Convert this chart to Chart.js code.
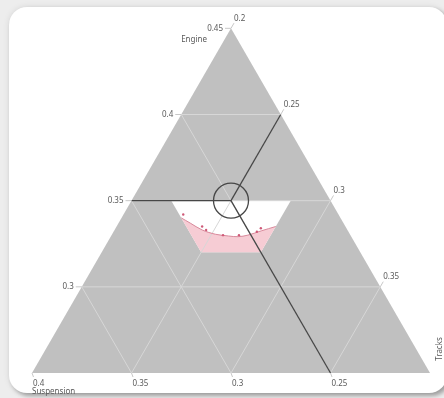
<!DOCTYPE html>
<html>
<head>
<meta charset="utf-8">
<script src="https://cdn.jsdelivr.net/npm/chart.js@4"></script>
<style>
  html, body { margin: 0; padding: 0; }
  body { width: 444px; height: 398px; overflow: hidden; background: #ededed; position: relative; }
  #card {
    position: absolute; left: 9px; top: 7px; width: 438px; height: 386px;
    background: #ffffff; border-radius: 18px;
    box-shadow: 0 0 6px rgba(0,0,0,0.10), 3px 3px 4px rgba(0,0,0,0.30);
  }
  #plot { position: absolute; left: 0; top: 0; }
</style>
</head>
<body>
<div id="card"></div>
<canvas id="plot" width="444" height="398"></canvas>
<script>
// Ternary composition: Engine + Suspension + Tracks = 0.85
const TOTAL = 0.85;
const engineRange = [0.25, 0.45];
const suspensionRange = [0.20, 0.40];
const tracksRange = [0.20, 0.40];

// Axis ticks (labelled)
const engineTicks = [0.45, 0.40, 0.35, 0.30];
const suspensionTicks = [0.40, 0.35, 0.30, 0.25];
const tracksTicks = [0.20, 0.25, 0.30, 0.35];

// Interior grid lines
const engineGrid = [0.30, 0.35, 0.40];
const suspensionGrid = [0.25, 0.30, 0.35];
const tracksGrid = [0.25, 0.30, 0.35];

// Feasible region (corner compositions)
const regionEngine     = [0.350, 0.350, 0.320, 0.320];
const regionSuspension = [0.280, 0.220, 0.250, 0.280];
const regionTracks     = [0.220, 0.280, 0.280, 0.250];

// Constraint boundary curve
const curveEngine     = [0.340, 0.337, 0.333, 0.3305, 0.3295, 0.3291, 0.330, 0.3325, 0.335];
const curveSuspension = [0.280, 0.277, 0.273, 0.2675, 0.2615, 0.2569, 0.2515, 0.2435, 0.235];
const curveTracks     = [0.230, 0.236, 0.244, 0.252,  0.259,  0.264,  0.2685, 0.274,  0.280];

// Sampled design points
const dotEngine     = [0.342, 0.335, 0.333, 0.330, 0.330, 0.332, 0.334];
const dotSuspension = [0.278, 0.272, 0.271, 0.264, 0.256, 0.246, 0.243];
const dotTracks     = [0.230, 0.243, 0.246, 0.256, 0.264, 0.272, 0.273];

// Selected composition
const selEngine = 0.35, selSuspension = 0.25, selTracks = 0.25;

// Convert a composition to planar coordinates (unit side, bottom-left corner at origin)
function tern(e, s, t) {
  let a = (e - engineRange[0]) / 0.2;
  let b = (s - suspensionRange[0]) / 0.2;
  let c = (t - tracksRange[0]) / 0.2;
  const sum = a + b + c;
  a /= sum; b /= sum; c /= sum;
  return { x: c + a / 2, y: a * Math.sqrt(3) / 2 };
}
function ternList(E, S, T) {
  return E.map((e, i) => tern(e, S[i], T[i]));
}

const GRAY = '#c0c0c0';
const GRID = '#d7d7d7';
const DARK = '#474747';

const datasets = [];
function line(data, color, width, order, extra) {
  datasets.push(Object.assign({
    type: 'scatter', data, showLine: true, borderColor: color, borderWidth: width,
    pointRadius: 0, fill: false, order, tension: 0
  }, extra || {}));
}

// Triangle body
const vTop = tern(engineRange[1], TOTAL - engineRange[1] - tracksRange[0], tracksRange[0]);
const vLeft = tern(engineRange[0], suspensionRange[1], TOTAL - engineRange[0] - suspensionRange[1]);
const vRight = tern(engineRange[0], TOTAL - engineRange[0] - tracksRange[1], tracksRange[1]);
line([vLeft, vTop, vRight, vLeft], GRAY, 0, 100, { fill: 'shape', backgroundColor: GRAY });

// Feasible region
const reg = ternList(regionEngine, regionSuspension, regionTracks);
line(reg.concat([reg[0]]), '#ffffff', 0, 90, { fill: 'shape', backgroundColor: '#ffffff' });

// Area beyond the constraint curve
const curve = ternList(curveEngine, curveSuspension, curveTracks);
const pinkPoly = curve.concat([reg[2], reg[3], curve[0]]);
line(pinkPoly, 'rgba(0,0,0,0)', 0, 85, { fill: 'shape', backgroundColor: '#f6ccd4' });

// Grid lines
engineGrid.forEach(e => {
  line([tern(e, TOTAL - e - tracksRange[0], tracksRange[0]), tern(e, suspensionRange[0], TOTAL - e - suspensionRange[0])], GRID, 1, 70);
});
suspensionGrid.forEach(s => {
  line([tern(TOTAL - s - tracksRange[0], s, tracksRange[0]), tern(engineRange[0], s, TOTAL - s - engineRange[0])], GRID, 1, 70);
});
tracksGrid.forEach(t => {
  line([tern(TOTAL - t - suspensionRange[0], suspensionRange[0], t), tern(engineRange[0], TOTAL - t - engineRange[0], t)], GRID, 1, 70);
});

// Constraint curve
line(curve, '#d98a9c', 1, 60, { tension: 0.35 });

// Crosshair from the selected composition to each axis
const sel = tern(selEngine, selSuspension, selTracks);
line([tern(selEngine, TOTAL - selEngine - tracksRange[0], tracksRange[0]), sel], DARK, 1.3, 50);
line([sel, tern(TOTAL - selTracks - suspensionRange[0], suspensionRange[0], selTracks)], DARK, 1.3, 50);
line([sel, tern(engineRange[0], selSuspension, TOTAL - selSuspension - engineRange[0])], DARK, 1.3, 50);

// Selection ring
datasets.push({
  type: 'scatter', data: [sel], pointRadius: 17.5, pointBorderWidth: 1.3,
  pointBorderColor: DARK, pointBackgroundColor: 'rgba(0,0,0,0)', order: 45
});

// Design points
datasets.push({
  type: 'scatter', data: ternList(dotEngine, dotSuspension, dotTracks), pointRadius: 1.2,
  pointBorderWidth: 0, pointBackgroundColor: '#cf5a78', order: 40
});

const SIDE = 398, LEFT = 32, BASE = 373, W = 444, H = 398;

const axisLabels = {
  id: 'ternaryAxes',
  afterDatasetsDraw(chart) {
    const { ctx } = chart;
    const xs = chart.scales.x, ys = chart.scales.y;
    const px = p => ({ x: xs.getPixelForValue(p.x), y: ys.getPixelForValue(p.y) });
    ctx.save();
    ctx.font = '8px "Noto Sans", sans-serif';
    ctx.fillStyle = '#5a5a5a';
    ctx.strokeStyle = '#c8c8c8';
    ctx.lineWidth = 1;
    const tick = (a, dx, dy) => {
      ctx.beginPath(); ctx.moveTo(a.x, a.y); ctx.lineTo(a.x + dx, a.y + dy); ctx.stroke();
    };
    // Engine (left edge)
    ctx.textAlign = 'right'; ctx.textBaseline = 'middle';
    engineTicks.forEach(e => {
      const a = px(tern(e, TOTAL - e - tracksRange[0], tracksRange[0]));
      tick(a, -6, 0);
      ctx.fillText(String(e), a.x - 8, a.y);
    });
    // Tracks (right edge)
    ctx.textAlign = 'left';
    tracksTicks.forEach(t => {
      const a = px(tern(TOTAL - t - suspensionRange[0], suspensionRange[0], t));
      tick(a, 3, -5.2);
      ctx.fillText(String(t), a.x + 3, a.y - 10);
    });
    // Suspension (bottom edge)
    suspensionTicks.forEach(s => {
      const a = px(tern(engineRange[0], s, TOTAL - s - engineRange[0]));
      tick(a, 1.5, 4);
      ctx.fillText(String(s), a.x + 1, a.y + 10.5);
    });
    // Axis titles
    const top = px(vTop), bl = px(vLeft), br = px(vRight);
    ctx.textAlign = 'right';
    ctx.fillText('Engine', top.x - 24, top.y + 11);
    ctx.textAlign = 'left';
    ctx.fillText('Suspension', bl.x, bl.y + 18.5);
    ctx.save();
    ctx.translate(br.x + 10, br.y - 24);
    ctx.rotate(-Math.PI / 2);
    ctx.textAlign = 'center';
    ctx.fillText('Tracks', 0, 0);
    ctx.restore();
    ctx.restore();
  }
};

new Chart(document.getElementById('plot'), {
  type: 'scatter',
  data: { datasets },
  options: {
    responsive: false,
    animation: false,
    events: [],
    layout: { padding: 0, autoPadding: false },
    scales: {
      x: { type: 'linear', display: false, min: -LEFT / SIDE, max: (W - LEFT) / SIDE },
      y: { type: 'linear', display: false, min: -(H - BASE) / SIDE, max: BASE / SIDE }
    },
    plugins: { legend: { display: false }, tooltip: { enabled: false } }
  },
  plugins: [axisLabels]
});
</script>
</body>
</html>
